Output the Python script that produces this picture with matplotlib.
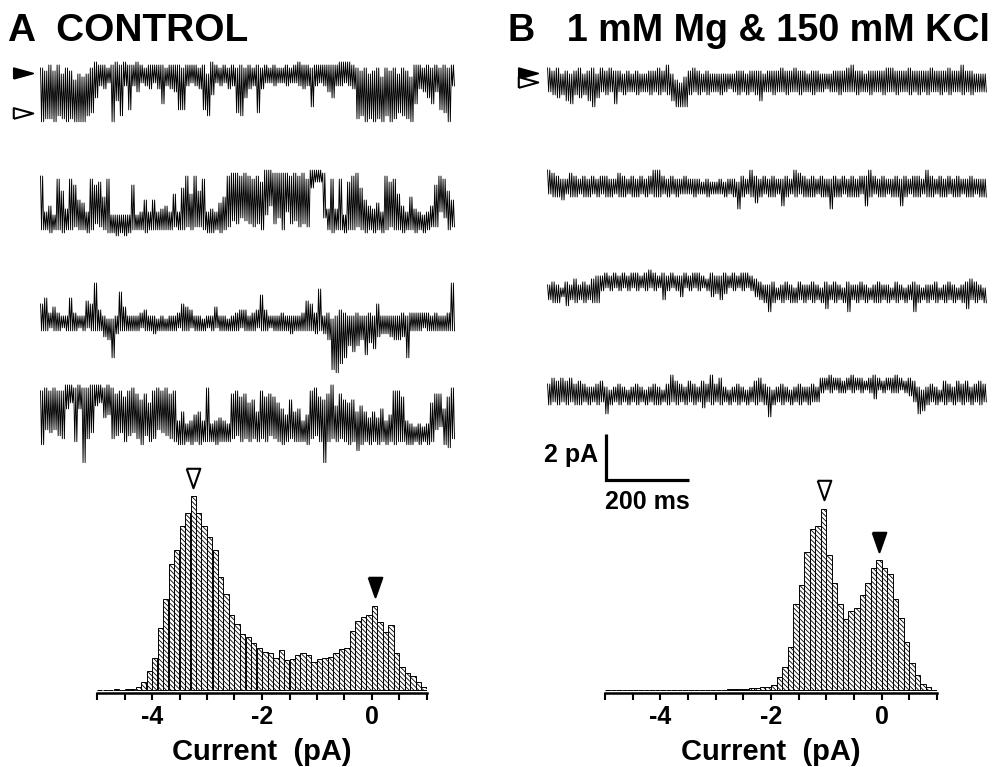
import matplotlib.pyplot as plt

plt.rcParams['font.family'] = ['Liberation Sans', 'DejaVu Sans']
plt.rcParams['font.weight'] = 'bold'
plt.rcParams['hatch.linewidth'] = 0.6

# all-points histograms, 0.1 pA bins from -5 to +1 pA (relative counts)
bin_left = [round(-5 + 0.1 * i, 1) for i in range(60)]
counts_a = [0, 0, 1, 2, 1, 3, 4, 10, 25, 58,
            97, 185, 272, 378, 422, 493, 533, 583, 532, 493,
            461, 422, 338, 288, 225, 197, 168, 160, 140, 125,
            113, 112, 97, 119, 90, 93, 105, 110, 105, 85,
            92, 95, 100, 110, 122, 127, 178, 207, 220, 226,
            253, 205, 173, 195, 110, 68, 50, 43, 25, 8]
counts_b = [0, 0, 0, 0, 0, 0, 0, 0, 0, 0,
            0, 0, 0, 0, 0, 0, 0, 0, 0, 0,
            0, 0, 2, 4, 4, 4, 5, 6, 8, 10,
            15, 40, 68, 128, 258, 315, 415, 483, 493, 545,
            405, 320, 258, 212, 237, 245, 285, 320, 368, 390,
            366, 348, 273, 216, 144, 81, 45, 18, 9, 0]
tick_pos = [-5 + 0.5 * i for i in range(13)]
tick_lab = {-4: '-4', -2: '-2', 0: '0'}

# current traces: 100 columns per row (10 ms each in A, 10.6 ms in B).
# hi / lo = top and bottom of the record in that column, in base-36 steps
# of 0.13 pA below the row level
a_hi = [("2313142364" "5420112101" "0110121111" "2111211121" "4012121212"
         "1212121221" "2101121111" "1100012324" "3252324235" "1121212121"),
        ("2ecf37d35a" "be35493fff" "ff5feaeaed" "ce8e628273" "edeb921121"
         "2324001111" "212130001d" "3d3f4216ac" "dbe2438ce9" "defec5237a"),
        ("86b9bcc6bc" "c781acddc4" "9cccbaccdc" "dccb89accd" "cc9ccdcbaa"
         "cba5acccbc" "cccb78b3cb" "dcabccbccb" "c8cccccbcb" "bbbbcbccb1"),
        ("2121220010" "1100010132" "4213536212" "132c9dca9c" "1dcbcd3243"
         "659243468a" "598ca21453" "073565979b" "9b8ca224cd" "eded633841")]
a_lo = [("kjjkijkjkk" "kihc897kdi" "8g8a78979e" "89agg8789g" "ib78798hic"
         "98h9778778" "77898f878a" "c88789jikj" "kjkikjhijk" "e9aceaghk8"),
        ("kklkklkkjk" "klkijkllml" "mlkkklkkkk" "kkjkkjkjjk" "llklkjhigh"
         "ijikfcigke" "ihjij644gk" "lkklkkjklk" "lklkjkklkk" "lklkjjegkj"),
        ("hhghhghhhg" "hghhhjkqih" "hhhhghhihh" "hhhghhghhh" "ghghhhhhgh"
         "hhghhghhhh" "ihhhhhihik" "uvsqmomkpl" "njiijkkjqh" "hhghhhhhhh"),
        ("kfgfhi86j8" "qig76baihg" "jhgikhjifg" "hijkkjkjkj" "jjkjjjihji"
         "jijijhijkj" "ijjjkihjqj" "ijijkjmkjk" "jkjkjkjjkk" "jkjkjfekli")]
b_hi = [("2324343243" "2423233434" "3443323146" "7532343444" "4443343334"
         "3332332334" "3344433321" "3343333223" "3323333233" "3233133444"),
        ("0123312323" "2322331232" "3232002323" "3233343443" "4334230232"
         "3233230123" "2323323232" "3220232332" "3232230232" "3232332333"),
        ("5456453545" "3221212121" "1210121212" "2121123122" "1212112345"
         "5465456455" "4564545645" "5456545564" "5654565546" "5456543456"),
        ("3121213234" "4324543454" "3454345302" "3423423031" "4543454213"
         "4543454344" "3411011210" "1121012110" "1212454345" "2342324323")]
b_lo = [("abcbdebcbd" "fcabaeabaa" "baabababdf" "ffbababaab" "a9abababda"
         "abaabaabaa" "baa9aabaaa" "baabaabaab" "aabababaab" "abaababaaa"),
        ("899a899899" "8989989989" "9898998989" "8889889888" "989d989b98"
         "998c989899" "9899d99899" "98c9899899" "c989989989" "9899899899"),
        ("abb9cababa" "bb76767676" "767676a767" "967676798a" "86767679ab"
         "ebababbaba" "babdababea" "bababbabab" "abaebababa" "bababdabab"),
        ("a9a9a9aa9a" "9a9da9a9a9" "a9a9aa9a9a" "9a9a9b9a9a" "9a9a9a9a9a"
         "ea9a9a9a9a" "9965656656" "5656856566" "5679dca9a9" "a9a9a9a9a9")]
a_rows = [0, -4.70, -9.48, -14.04]
b_rows = [0, -4.70, -9.04, -13.61]
a_levels = [-0.48, -2.22]   # closed / open level marked on trace 1
b_levels = [-0.48, -0.89]
UNIT = 0.13

for s in a_hi + a_lo + b_hi + b_lo:
    assert len(s) == 100

PX_MS = 0.415   # figure pixels per ms
PX_PA = 23.0    # figure pixels per pA

fig = plt.figure(figsize=(10.03, 7.67), dpi=100)


def px_axes(x0, y0, x1, y1):
    return fig.add_axes([x0 / 1003, 1 - y1 / 767, (x1 - x0) / 1003, (y1 - y0) / 767])


def trace_axes(x0, x1, t0_px):
    ax = px_axes(x0, 55, x1, 500)
    ax.set_xlim((x0 - t0_px) / PX_MS, (x1 - t0_px) / PX_MS)
    ax.set_ylim(-(500 - 62) / PX_PA, (62 - 55) / PX_PA)
    ax.axis('off')
    return ax


def draw_traces(ax, his, los, rows, col_ms):
    for hi, lo, off in zip(his, los, rows):
        t, y = [], []
        for k, (h, l) in enumerate(zip(hi, lo)):
            top = off - int(h, 36) * UNIT
            bot = off - int(l, 36) * UNIT
            t += [(k + f) * col_ms for f in (0.125, 0.375, 0.625, 0.875)]
            y += [top, bot, top, bot]
        ax.plot(t, y, color='black', lw=0.65)


right_tri = [(-1, -0.55), (1, 0), (-1, 0.55), (-1, -0.55)]
down_tri = [(-0.7, 1), (0.7, 1), (0, -1), (-0.7, 1)]


def level_marks(ax, t, levels):
    ax.plot(t, levels[0], marker=right_tri, ms=14, mfc='black', mec='black', mew=1.2, clip_on=False)
    ax.plot(t, levels[1], marker=right_tri, ms=14, mfc='white', mec='black', mew=1.5, clip_on=False)


def draw_hist(ax, counts, open_from, open_to):
    ax.bar(bin_left, counts, width=0.1, align='edge', color='white',
           edgecolor='black', linewidth=0.7, hatch='\\' * 7)
    ax.set_xlim(-5, 1)
    ax.set_ylim(-9, 691)
    for s in ['top', 'right', 'left']:
        ax.spines[s].set_visible(False)
    ax.spines['bottom'].set_linewidth(1.8)
    ax.set_yticks([])
    ax.set_xticks(tick_pos)
    ax.set_xticklabels([tick_lab.get(v, '') for v in tick_pos])
    ax.tick_params(axis='x', direction='out', length=5, width=1.5, labelsize=18, pad=4)
    ax.set_xlabel('Current  (pA)', fontsize=21, fontweight='bold', labelpad=6)
    ax.patch.set_visible(False)
    # peak markers: open level (hollow) and closed level (filled)
    for lo_x, hi_x, face in [(open_from, open_to, 'white'), (-0.6, 1.0, 'black')]:
        idx = [i for i in range(60) if lo_x <= bin_left[i] < hi_x]
        i = max(idx, key=lambda j: counts[j])
        ax.plot(bin_left[i] + 0.05, counts[i] + 55, marker=down_tri, ms=14,
                mfc=face, mec='black', mew=1.5, clip_on=False)


ax_ta = trace_axes(30, 470, 40)
draw_traces(ax_ta, a_hi, a_lo, a_rows, 10.0)
level_marks(ax_ta, -40, a_levels)

ax_tb = trace_axes(500, 1003, 547)
draw_traces(ax_tb, b_hi, b_lo, b_rows, 10.6)
level_marks(ax_tb, -46, b_levels)

# scale bar 2 pA / 200 ms
t0 = (606 - 547) / PX_MS
y0 = -(480 - 62) / PX_PA
ax_tb.plot([t0, t0, t0 + 200], [y0 + 2, y0, y0], color='black', lw=2.3,
           solid_capstyle='butt', solid_joinstyle='miter')
ax_tb.text(t0 - 8 / PX_MS, y0 + 1.1, '2 pA', ha='right', va='center', fontsize=18, fontweight='bold')
ax_tb.text(t0 + 100, y0 - 0.45, '200 ms', ha='center', va='top', fontsize=18, fontweight='bold')

ax_ha = px_axes(97, 460, 427, 693)
draw_hist(ax_ha, counts_a, -4.5, -2.0)
ax_hb = px_axes(605, 460, 937, 693)
draw_hist(ax_hb, counts_b, -2.0, -0.6)

fig.text(8 / 1003, 1 - 41 / 767, 'A  CONTROL', fontsize=28, fontweight='bold', va='baseline')
fig.text(508 / 1003, 1 - 41 / 767, 'B   1 mM Mg & 150 mM KCl', fontsize=27.2, fontweight='bold', va='baseline')

fig.savefig('out.png', dpi=100, facecolor='white')
